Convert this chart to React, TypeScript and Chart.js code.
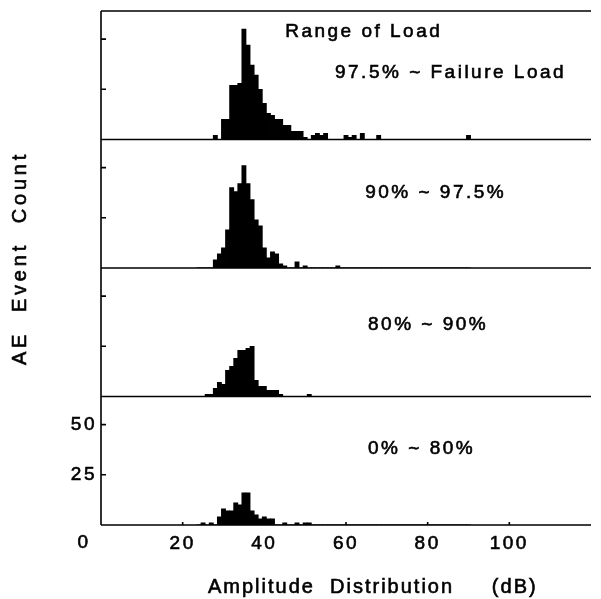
import React, { useEffect, useRef } from "react";
import { Chart, registerables } from "chart.js";

Chart.register(...registerables);

// Amplitude bins (dB, 1 dB wide, centred on the value)
const amplitudeBins: number[] = [
  24, 25, 26, 27, 28, 29, 30, 31, 32, 33,
  34, 35, 36, 37, 38, 39, 40, 41, 42, 43,
  44, 45, 46, 47, 48, 49, 50, 51, 52, 53,
  54, 55, 56, 57, 58, 59, 60, 61, 62, 63,
  64, 65, 66, 67, 68, 69, 70, 71, 72, 73,
  74, 75, 76, 77, 78, 79, 80, 81, 82, 83,
  84, 85, 86, 87, 88, 89, 90,
];

// AE event counts per bin, one array per load range
const countsFailure: number[] = [
  0, 0, 0, 0, 2, 0, 10, 10, 27, 27,
  28, 55, 47, 37, 32, 25, 18, 13, 12, 10,
  10, 7, 7, 4, 4, 4, 1, 0, 2, 3,
  2, 3, 0, 0, 0, 0, 2, 1, 2, 0,
  3, 0, 0, 0, 2, 0, 0, 0, 0, 0,
  0, 0, 0, 0, 0, 0, 0, 0, 0, 0,
  0, 0, 0, 0, 0, 0, 2,
];
const counts90: number[] = [
  0, 0, 0, 0, 4, 7, 10, 19, 40, 38,
  42, 51, 42, 34, 24, 21, 10, 5, 8, 7,
  2, 1, 0, 0, 3, 0, 1, 0, 0, 0,
  0, 0, 0, 0, 1, 0, 0, 0, 0, 0,
  0, 0, 0, 0, 0, 0, 0, 0, 0, 0,
  0, 0, 0, 0, 0, 0, 0, 0, 0, 0,
  0, 0, 0, 0, 0, 0, 0,
];
const counts80: number[] = [
  0, 0, 1, 1, 4, 7, 6, 13, 15, 19,
  23, 23, 24, 25, 8, 5, 5, 3, 3, 3,
  1, 0, 0, 0, 0, 0, 0, 1, 0, 0,
  0, 0, 0, 0, 0, 0, 0, 0, 0, 0,
  0, 0, 0, 0, 0, 0, 0, 0, 0, 0,
  0, 0, 0, 0, 0, 0, 0, 0, 0, 0,
  0, 0, 0, 0, 0, 0, 0,
];
const counts0: number[] = [
  0, 1, 0, 1, 0, 4, 8, 7, 7, 11,
  10, 16, 16, 7, 5, 3, 4, 3, 3, 0,
  0, 1, 0, 0, 1, 0, 1, 1, 0, 0,
  0, 0, 0, 0, 0, 0, 0, 0, 0, 0,
  0, 0, 0, 0, 0, 0, 0, 0, 0, 0,
  0, 0, 0, 0, 0, 0, 0, 0, 0, 0,
  0, 0, 0, 0, 0, 0, 0,
];

const panelLabels: string[] = ["97.5% ~ Failure Load", "90% ~ 97.5%", "80% ~ 90%", "0% ~ 80%"];
const headerLabel = "Range of Load";
const xTicks: number[] = [20, 40, 60, 80, 100];
const yTicks: number[] = [25, 50];
const xTitle = "Amplitude  Distribution     (dB)";
const yTitle = "AE  Event  Count";

// label placement in data units of each panel
const panelLabelX = [57.3, 64.7, 65.4, 65.4];
const panelLabelY = [33.4, 37.4, 35.6, 37.8];
const headerX = 45.1;
const headerY = 53.5;

const FONT = "'Liberation Sans', Arial, Helvetica, sans-serif";
const panelIds = ["p1", "p2", "p3", "p4"];

function inkText(ctx: any, text: string, x: number, y: number) {
  ctx.fillText(text, x, y);
  ctx.strokeText(text, x, y);
}

export default function App() {
  const ref = useRef<HTMLCanvasElement | null>(null);

  useEffect(() => {
    const canvas = ref.current;
    if (!canvas) return;
    const series = [countsFailure, counts90, counts80, counts0];

    const datasets = series.map((s, i) => ({
      label: panelLabels[i],
      data: amplitudeBins.map((b, j) => ({ x: b, y: s[j] })),
      yAxisID: panelIds[i],
      backgroundColor: "#000",
      borderWidth: 0,
      barPercentage: 1,
      categoryPercentage: 1,
      grouped: false,
      inflateAmount: 0.4,
    }));

    const tickFont = { family: FONT, size: 19 };

    const scales: any = {
      x: {
        type: "linear",
        position: "bottom",
        offset: false,
        min: 0,
        max: 120,
        grid: { display: false, drawTicks: false, offset: false },
        border: { display: false },
        ticks: {
          padding: 7,
          color: "#000",
          autoSkip: false,
          maxRotation: 0,
          font: tickFont,
          textStrokeColor: "#000",
          textStrokeWidth: 0.6,
        },
        afterBuildTicks: (sc: any) => {
          sc.ticks = xTicks.map((v) => ({ value: v }));
        },
        afterFit: (sc: any) => {
          sc.height = 74;
          sc.paddingLeft = 0;
          sc.paddingRight = 0;
        },
      },
    };
    panelIds.forEach((id, i) => {
      scales[id] = {
        type: "linear",
        position: "left",
        stack: "panels",
        stackWeight: 1,
        weight: 4 - i,
        min: 0,
        max: 64,
        grid: { display: false, drawTicks: false },
        border: { display: false },
        ticks: {
          display: i === 3,
          padding: 4,
          color: "#000",
          font: tickFont,
          textStrokeColor: "#000",
          textStrokeWidth: 0.6,
        },
        afterBuildTicks: (sc: any) => {
          sc.ticks = yTicks.map((v) => ({ value: v }));
        },
        afterFit: (sc: any) => {
          sc.width = 101;
          sc.paddingTop = 0;
          sc.paddingBottom = 0;
        },
      };
    });

    const framePlugin = {
      id: "frame",
      beforeDraw(chart: any) {
        chart.ctx.letterSpacing = "2.5px";
      },
      afterDraw(chart: any) {
        const { ctx, chartArea: a } = chart;
        const sc = chart.scales;
        ctx.save();
        ctx.strokeStyle = "#000";
        ctx.lineWidth = 1.6;
        ctx.beginPath();
        ctx.moveTo(a.left, a.top);
        ctx.lineTo(a.left, a.bottom);
        ctx.moveTo(a.left, a.top);
        ctx.lineTo(a.right, a.top);
        panelIds.forEach((id) => {
          const y0 = sc[id].getPixelForValue(0);
          ctx.moveTo(a.left, y0);
          ctx.lineTo(a.right, y0);
          yTicks.forEach((v) => {
            const ty = sc[id].getPixelForValue(v);
            ctx.moveTo(a.left, ty);
            ctx.lineTo(a.left + 5, ty);
          });
        });
        xTicks.forEach((v) => {
          const tx = sc.x.getPixelForValue(v);
          ctx.moveTo(tx, a.bottom);
          ctx.lineTo(tx, a.bottom - 3);
        });
        ctx.stroke();

        ctx.fillStyle = "#000";
        ctx.strokeStyle = "#000";
        ctx.lineWidth = 0.6;
        ctx.letterSpacing = "2.5px";
        ctx.font = `19px ${FONT}`;
        ctx.textBaseline = "middle";
        ctx.textAlign = "left";
        inkText(ctx, headerLabel, sc.x.getPixelForValue(headerX), sc.p1.getPixelForValue(headerY));
        panelLabels.forEach((t, i) => {
          inkText(ctx, t, sc.x.getPixelForValue(panelLabelX[i]), sc[panelIds[i]].getPixelForValue(panelLabelY[i]));
        });

        // x-axis origin label, set off to the left as in the original
        ctx.textAlign = "center";
        inkText(ctx, "0", sc.x.getPixelForValue(0) - 17, a.bottom + 18);

        // x title
        ctx.font = `20px ${FONT}`;
        ctx.letterSpacing = "2px";
        ctx.textAlign = "left";
        ctx.textBaseline = "alphabetic";
        inkText(ctx, xTitle, a.left + 107, a.bottom + 68);

        // y title
        ctx.font = `20px ${FONT}`;
        ctx.letterSpacing = "3.8px";
        ctx.translate(20, (a.top + a.bottom) / 2 - 10);
        ctx.rotate(-Math.PI / 2);
        ctx.textAlign = "center";
        ctx.textBaseline = "middle";
        inkText(ctx, yTitle, 0, 0);
        ctx.restore();
      },
    };

    const chart = new Chart(canvas, {
      type: "bar",
      data: { datasets } as any,
      options: {
        animation: false,
        responsive: false,
        devicePixelRatio: 1,
        layout: { padding: { top: 11, right: 10, left: 0, bottom: 0 } },
        plugins: {
          legend: { display: false },
          tooltip: { enabled: false },
          title: { display: false },
        },
        scales,
      } as any,
      plugins: [framePlugin],
    });
    return () => chart.destroy();
  }, []);

  return (
    <div style={{ position: "fixed", left: 0, top: 0, width: 601, height: 599, background: "#fff" }}>
      <canvas ref={ref} width={601} height={599} style={{ display: "block", width: 601, height: 599 }} />
    </div>
  );
}
